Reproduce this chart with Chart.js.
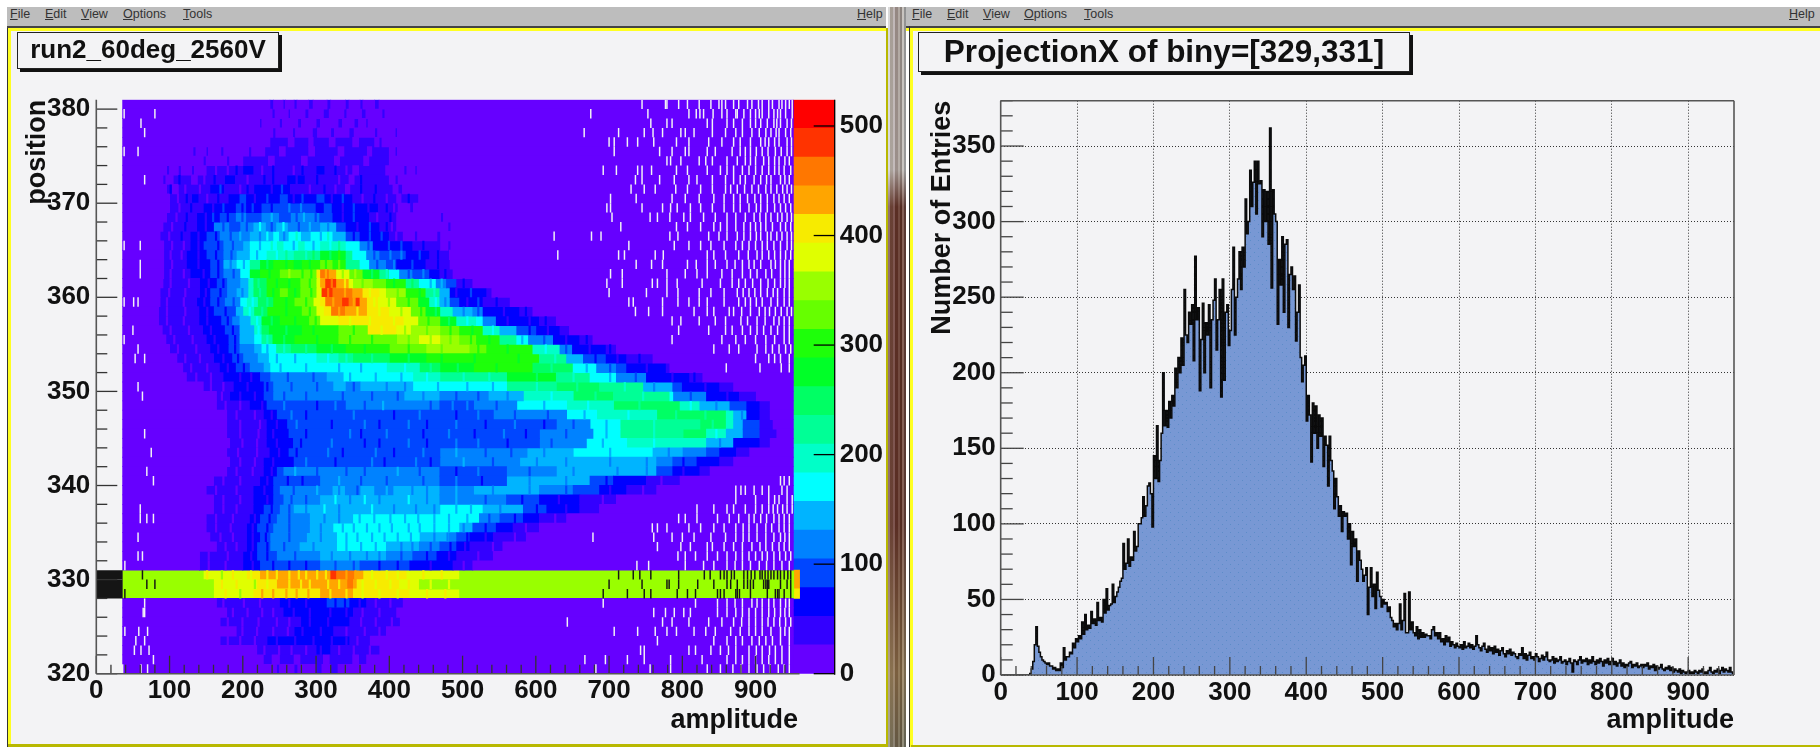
<!DOCTYPE html>
<html><head><meta charset="utf-8">
<script src="https://cdn.jsdelivr.net/npm/chart.js@4/dist/chart.umd.min.js"></script>
<style>
html,body{margin:0;padding:0;background:#fff;width:1820px;height:747px;overflow:hidden;font-family:"Liberation Sans",Arial,sans-serif}
.a{position:absolute}
.menu{position:absolute;top:7px;height:19px;background:#bdbdbd;border-bottom:2px solid #444;box-sizing:content-box}
.mi{position:absolute;top:7px;height:19px;line-height:15px;font-size:12.5px;color:#333}
.panel{position:absolute;background:#f3f3f5}
.titlebox{position:absolute;background:#f3f3f5;border:1px solid #222;box-shadow:3px 3px 0 #111;box-sizing:border-box;font-weight:bold;color:#111;text-align:center;filter:blur(.4px);white-space:nowrap}
canvas{position:absolute;filter:blur(.45px)}
</style></head><body>
<div class="menu" style="left:7px;width:879px"></div>
<div class="menu" style="left:906px;width:914px"></div>
<span class="mi" style="left:10px"><u>F</u>ile</span><span class="mi" style="left:45px"><u>E</u>dit</span><span class="mi" style="left:81px"><u>V</u>iew</span><span class="mi" style="left:123px"><u>O</u>ptions</span><span class="mi" style="left:183px"><u>T</u>ools</span><span class="mi" style="left:857px"><u>H</u>elp</span>
<span class="mi" style="left:912px"><u>F</u>ile</span><span class="mi" style="left:947px"><u>E</u>dit</span><span class="mi" style="left:983px"><u>V</u>iew</span><span class="mi" style="left:1024px"><u>O</u>ptions</span><span class="mi" style="left:1084px"><u>T</u>ools</span><span class="mi" style="left:1789px"><u>H</u>elp</span>
<div class="a" style="left:7px;top:28px;width:879px;height:3px;background:#ffff22"></div>
<div class="a" style="left:7px;top:28px;width:1px;height:719px;background:#333"></div>
<div class="a" style="left:8px;top:28px;width:3px;height:719px;background:#ffff22"></div>
<div class="panel" style="left:11px;top:31px;width:875px;height:713px"></div>
<div class="a" style="left:8px;top:744px;width:880px;height:3px;background:#b8b800"></div>
<div class="a" style="left:886px;top:28px;width:2px;height:719px;background:#b8b800"></div>
<div class="a" style="left:888px;top:7px;width:18px;height:740px;background:linear-gradient(90deg,#d8d8d8 0 12%,#7a6a5c 12% 30%,#a99 30% 38%,#5a4238 38% 55%,#8f7f74 55% 65%,#4a3a30 65% 78%,#b8b0a8 78% 90%,#555 90% 100%)"></div>
<div class="a" style="left:888px;top:7px;width:18px;height:740px;background:linear-gradient(180deg,rgba(220,220,220,.45) 0,rgba(220,220,220,.5) 22%,rgba(90,30,20,.55) 27%,rgba(90,30,20,.55) 70%,rgba(150,120,70,.55) 90%,rgba(110,110,80,.5) 100%)"></div>
<div class="a" style="left:906px;top:28px;width:914px;height:3px;background:#ffff22"></div>
<div class="a" style="left:909px;top:26px;width:1px;height:721px;background:#333"></div>
<div class="a" style="left:910px;top:28px;width:3px;height:719px;background:#ffff22"></div>
<div class="panel" style="left:913px;top:31px;width:907px;height:714px"></div>
<div class="a" style="left:911px;top:745px;width:909px;height:2px;background:#b8b800"></div>
<div class="titlebox" style="left:17px;top:32px;width:262px;height:37px;font-size:26px;line-height:33px">run2_60deg_2560V</div>
<div class="titlebox" style="left:918px;top:32px;width:492px;height:40px;font-size:31.5px;line-height:36px">ProjectionX of biny=[329,331]</div>
<canvas id="left" width="875" height="713" style="left:11px;top:31px;width:875px;height:713px"></canvas>
<canvas id="right" width="907" height="714" style="left:913px;top:31px;width:907px;height:714px"></canvas>
<script>
// ---------- DATA ----------
const paletteColors=["rgb(102,0,255)","rgb(51,0,255)","rgb(0,0,255)","rgb(0,70,255)","rgb(0,130,255)","rgb(0,180,255)","rgb(0,255,255)","rgb(0,255,200)","rgb(0,255,150)","rgb(0,255,100)","rgb(0,255,40)","rgb(30,255,10)","rgb(102,255,0)","rgb(153,255,0)","rgb(224,255,0)","rgb(247,235,0)","rgb(255,165,0)","rgb(255,119,0)","rgb(255,51,0)","rgb(255,0,0)"];
const paletteMax=524;
const paletteRange=[951.5,1008];
const firstRow=380;
const amplitudeTicks=[0,100,200,300,400,500,600,700,800,900];
const positionTicks=[320,330,340,350,360,370,380];
const paletteTicks=[0,100,200,300,400,500];
const entriesTicks=[0,50,100,150,200,250,300,350];
// each row, top to bottom: amplitude where a palette level starts, level, ...
const heatRuns=[
[36,0,237,1,242,0,255,1,258,0,270,1,274,0,290,1,296,0,315,1,320,0,340,1,345,0,360,1,364,0,380,1,386,0],
[36,0,240,1,244,0,262,1,265,0,285,1,290,0,310,1,318,0,338,1,342,0,362,1,368,0,390,1,394,0],
[36,0,223,1,226,0,250,1,254,0,275,1,280,0,300,1,306,0,330,1,336,0,352,1,358,0,368,1,371,0],
[36,0,241,1,245,0,268,1,272,0,295,1,302,0,320,1,325,0,345,1,352,0,380,1,384,0,408,1,411,0],
[36,0,237,1,262,0,270,1,290,0,296,1,318,0,326,1,350,0,358,1,380,0,386,1,390,0],
[36,0,132,1,136,0,150,1,153,0,170,1,174,0,208,1,212,0,230,1,250,0,258,1,290,0,298,1,330,0,338,1,370,0,376,1,400,0,408,1,411,0],
[36,0,146,1,150,0,178,1,182,0,200,1,235,0,243,1,280,0,288,1,325,0,332,1,365,0,372,1,400,0],
[36,0,96,1,100,0,112,1,116,0,130,1,134,0,150,1,200,2,215,1,300,2,312,1,350,0,358,1,395,0,420,1,424,0,435,1,438,0],
[36,0,91,1,95,0,105,1,130,0,138,1,175,2,190,1,260,2,285,1,345,0,352,1,400,0,408,1,412,0],
[36,0,96,1,104,0,112,1,155,2,175,1,215,2,265,1,340,0,346,1,405,0,412,1,418,0],
[36,0,100,1,130,2,140,1,180,2,195,3,205,2,250,3,262,2,300,3,312,2,350,1,410,0,416,1,440,0],
[36,0,100,1,146,2,190,3,205,2,225,3,300,2,310,3,322,2,385,1,412,0,428,1,433,0],
[36,0,96,1,137,2,168,3,190,4,205,3,225,4,250,3,265,4,305,3,323,2,373,1,410,0,470,1,474,0],
[36,0,91,1,137,2,160,4,182,3,196,4,214,5,232,4,245,5,262,4,305,5,328,3,341,2,387,1,410,0,480,1,484,0],
[36,0,87,1,128,2,150,3,168,4,209,5,241,6,250,5,262,6,280,5,292,6,323,5,341,3,360,2,400,1,419,0,465,1,470,0],
[36,0,92,1,128,2,146,3,173,4,200,5,209,6,246,7,256,6,275,7,285,6,305,7,341,6,360,4,378,2,432,1,470,0,480,1,484,0],
[36,0,92,1,123,2,150,3,173,4,191,5,209,6,232,7,269,8,305,10,341,8,350,6,369,4,387,3,423,2,455,1,482,0],
[36,0,92,1,123,2,155,3,173,5,191,6,209,8,223,10,241,11,270,10,280,11,305,12,323,11,341,8,360,6,373,4,396,3,410,2,450,1,483,0],
[36,0,92,1,128,2,155,3,173,4,196,6,209,10,223,11,250,12,300,15,305,17,318,16,328,14,346,12,364,10,387,8,400,6,414,4,432,3,455,2,469,1,487,0],
[36,0,91,1,141,2,164,3,178,4,196,5,207,7,214,9,232,11,278,12,300,14,305,16,312,18,328,16,345,14,351,13,378,12,396,11,423,8,441,6,464,4,478,3,492,1,514,0],
[36,0,87,1,141,2,155,3,178,4,191,5,207,7,214,9,232,11,250,12,262,11,278,12,300,14,307,18,323,17,350,16,364,15,387,14,396,13,423,11,450,8,469,5,483,2,533,1,540,0],
[36,0,87,1,137,2,155,3,175,4,196,6,205,7,220,9,241,11,270,12,296,14,305,15,312,17,335,18,345,17,354,18,360,16,370,15,385,14,410,12,440,10,455,7,469,5,483,3,496,2,528,1,565,0],
[36,0,85,1,140,2,160,3,190,5,200,7,215,9,233,11,280,12,300,14,310,15,320,17,340,16,370,15,400,14,430,12,450,10,470,7,487,5,514,4,528,2,578,1,596,0],
[36,0,85,1,140,2,170,3,185,4,195,5,210,7,225,10,250,11,290,12,305,14,330,15,420,14,440,12,470,10,492,7,519,6,528,4,546,2,605,1,628,0],
[36,0,90,1,145,2,175,3,195,5,215,7,225,9,235,10,280,11,330,12,370,15,410,14,430,13,470,12,496,11,528,7,551,5,574,3,601,2,633,1,646,0],
[36,0,95,1,150,2,180,3,195,5,215,6,225,8,240,10,270,11,330,12,410,13,440,14,470,13,496,12,519,11,551,8,574,6,590,4,624,2,660,1,678,0],
[36,0,100,1,155,2,180,3,195,4,215,5,225,6,245,8,265,9,300,10,340,11,400,12,450,13,510,12,533,11,596,7,633,4,650,2,696,1,710,0],
[36,0,110,1,160,2,185,3,200,4,220,5,235,6,300,7,330,8,350,9,400,10,450,11,605,8,642,5,665,3,696,2,724,1,760,0],
[36,0,118,1,168,2,190,3,209,4,228,5,237,6,396,7,441,9,469,10,515,11,596,9,651,6,683,4,710,3,724,2,778,1,783,0],
[36,0,123,1,173,2,223,3,237,4,314,5,337,6,432,7,469,8,560,10,628,8,674,6,710,4,751,2,810,1,828,0],
[36,0,146,1,187,2,228,3,241,4,323,5,341,4,360,5,432,6,560,8,628,9,687,8,747,5,787,3,800,2,851,1,870,0],
[36,0,164,1,182,2,228,3,241,4,420,5,469,4,535,5,583,7,651,9,706,8,783,6,788,4,833,2,878,1,901,0],
[36,0,164,1,209,2,232,3,340,4,469,3,515,4,574,6,642,7,706,9,797,7,824,5,865,3,888,2,906,1,920,0],
[36,0,178,1,228,2,246,3,542,4,642,6,683,7,765,9,860,7,870,5,888,2,906,1,920,0],
[36,0,178,1,232,2,260,3,628,4,674,6,715,8,824,9,860,7,870,5,883,3,906,1,924,0],
[36,0,178,1,232,2,262,3,605,4,678,6,715,8,801,9,833,7,860,5,883,3,906,1,929,0],
[36,0,182,1,232,2,268,3,605,4,669,6,724,7,833,5,870,2,906,1,920,0],
[36,0,178,1,236,2,262,3,469,4,588,5,651,6,760,5,801,4,833,3,851,2,874,1,892,0],
[36,0,182,1,228,2,269,3,469,4,578,5,765,4,787,3,820,2,851,1,870,0],
[36,0,178,1,228,2,246,3,255,4,469,3,560,4,628,5,765,3,787,2,824,1,838,0],
[36,0,160,1,223,2,241,3,305,4,469,3,560,5,674,3,706,2,751,1,797,0],
[36,0,150,1,214,2,241,3,250,4,322,5,340,4,360,5,380,4,405,5,469,4,515,5,605,4,651,3,687,2,724,1,765,0],
[36,0,160,1,214,2,241,3,255,4,305,5,469,4,560,3,605,2,660,1,710,0],
[36,0,160,1,214,2,228,3,250,4,269,5,469,6,528,5,583,3,615,2,660,1,687,0],
[36,0,150,1,209,2,223,3,246,4,291,5,350,6,523,4,551,3,583,2,605,1,642,0],
[36,0,150,1,205,2,219,3,241,4,291,5,323,6,496,5,514,3,546,2,569,1,605,0],
[36,0,155,1,205,2,223,3,237,4,287,5,328,6,442,5,482,4,492,3,510,2,542,1,587,0],
[36,0,164,1,205,2,219,3,237,4,277,5,328,6,396,5,441,4,469,3,492,2,510,1,555,0],
[36,0,141,1,200,2,219,3,246,4,305,5,396,4,432,3,465,2,492,1,542,0],
[36,0,141,1,200,2,223,3,305,4,360,3,428,2,487,1,514,0],
[36,13,146,14,205,15,223,16,319,18,328,17,355,16,365,15,424,14,496,13,952,16],
[36,13,160,14,219,15,246,16,342,17,351,16,356,15,414,14,441,13,952,16],
[36,13,160,14,214,15,305,16,351,15,428,14,496,13,952,15],
[36,0,164,1,250,2,314,3,346,2,369,1,419,0],
[36,0,178,1,255,2,351,1,410,0],
[36,0,169,1,279,2,346,1,415,0],
[36,0,191,1,270,2,324,1,396,0],
[36,0,169,1,233,2,346,1,374,0],
[36,0,219,1,300,2,320,1,387,0],
[36,0,228,1,240,0,250,1,270,0,278,1,310,0,318,1,350,0,358,1,369,0],
[36,0,246,1,250,0,270,1,275,0,300,1,308,0,320,1,330,0]
];
// fine stripes per row: +amplitude = one palette level above its run, -amplitude = one below
const cellStripes=[
[],[],[],[],[],[],[],
[-162,-178,190,-225,240,-268,280,325,-340],
[112,-146,160,-205,228,240,-272,300,-330,360],
[100,-120,-140,168,-195,205,-238,252,-290,310,-325,360,380],
[-110,122,-150,165,-215,232,-268,280,-320,335,-362,378,-395,425],
[-112,128,-158,172,-198,212,-238,262,278,-335,350,-370,395,-405],
[-108,122,-148,158,-178,-198,238,-272,282,-298,-335,350,-382,400],
[-102,120,-148,-172,-204,222,-238,254,-275,290,-315,-355,372,395,-402],
[-98,115,-138,-162,-182,195,-222,232,-255,272,-305,315,-350,372,388,-408,435],
[-102,-118,-138,-165,-185,-222,238,-268,-295,-318,330,-370,398,415,445],
[-100,-115,-138,-162,-183,-218,-245,258,-285,295,-318,330,-378,400,415,440,465],
[-102,-138,-165,-182,-200,-232,-258,-290,-312,330,-382,405,430,465],
[-100,-118,-145,-165,-186,-235,262,-280,-292,-312,-335,352,-375,-395,-425,445,475],
[-100,-125,-152,-172,-220,-245,-262,-290,-320,-338,-362,-405,430,-455,470,500],
[-98,-120,-148,-168,-198,-222,-240,-270,-292,-315,-338,-372,-410,-440,-460,-490,510],
[-95,-118,-146,-165,-186,-212,-232,-258,-285,-322,-350,-378,-398,-425,-462,-475,-505,520,545],
[-95,-120,-150,-175,-208,-225,-258,-290,-330,-355,-385,-415,-442,-462,-500,-520,-555,585],
[-95,-118,-150,-178,-218,-238,-270,-298,-345,-372,-405,-452,-480,-505,-560,-590,612],
[-100,-125,-155,-185,-220,-258,-295,-350,-388,-420,-450,-482,-512,-540,-590,-615],
[-105,-130,-160,-188,-232,-255,-300,-345,-375,-425,-455,-482,-510,-535,-580,-610,-640,668],
[-110,-135,-165,-188,-232,-255,-285,-320,-365,-425,-470,-520,-560,-612,-640,-672,700],
[-120,-140,-172,-192,-245,-270,-315,-340,-375,-425,-470,-515,-575,-625,-680,-710,740],
[-128,-150,-178,-200,-250,-285,-330,-360,-420,-455,-492,-545,-620,-668,-700,-750],
[-135,-155,-195,-210,-260,-295,-345,-380,-415,-450,-500,-535,-600,-650,-700,-735,-785,815],
[-155,-172,-205,-232,-265,-300,-350,-395,-420,-465,-505,-540,-600,-655,-720,-760,-830],
[-170,-195,-215,-255,-285,-335,-375,-410,-445,-490,-520,-560,-620,-680,-745,-810,-860],
[-175,-195,-225,255,-300,325,-365,390,-455,485,505,-545,-610,-670,-740,-810,-845],
[-190,-215,-238,265,-285,350,-405,440,-490,520,-570,-615,-665,-725,-790,-830,-880],
[-195,-222,-245,272,-320,365,-385,425,-450,490,-530,570,-610,-650,-695,-760,-840],
[-195,-220,-240,-285,345,-360,395,-445,480,-515,555,-585,-640,-695,-760,-845],
[-198,-218,-245,-278,320,-365,-385,425,-450,490,520,-560,-620,-690,-760,-850],
[-192,-218,-248,-272,315,-335,380,-405,445,490,-530,-565,-610,-700,-780],
[-195,-215,-240,285,-325,375,-392,435,-455,500,-540,-600,-640,-700,-750,-800],
[-190,-212,-238,270,-300,-340,-365,410,-440,-490,520,-590,-650,-710,-750,-800],
[-172,-195,-232,-260,-280,330,-360,-395,-445,490,-525,-590,-640,-695,-770],
[-162,-190,-228,-268,300,-330,-355,395,-430,-450,490,-540,-590,-640,-700,-745],
[-172,-195,-232,-265,-285,325,-345,365,-385,425,-450,490,-530,-580,-630,-690],
[-172,-190,-238,-262,-285,310,-330,375,-405,-435,-460,-490,-510,-550,-600,-640],
[-162,-185,-215,-235,-262,-310,-330,-358,-378,-400,-420,-438,-460,-480,-505,-535,-570,-625],
[-162,-182,-212,-232,-262,-305,-335,-350,-368,-385,-402,-425,-440,-460,-480,-500,-530,-585],
[-168,-185,-212,-230,-262,-305,-340,-355,-375,-392,-410,-428,-460,-478,-505,-530,-570],
[-175,-190,-212,-232,-255,-295,-340,-360,-380,-415,-430,-455,-482,-502,-540],
[-152,-178,-210,-232,-270,-320,-345,-368,-385,-415,-450,-480,-520],
[-152,-175,-212,-240,-262,-285,-325,-350,-385,-410,-455,-500],
[150,-170,185,-210,-232,-245,-262,-275,-285,-300,-312,-340,-352,-375,-395,-410,445,470],
[170,190,-215,-232,-262,-278,-290,-315,-330,-362,-380,-400,425,455,480],
[175,-195,225,240,258,272,288,-318,-340,-362,-385,-410,450,475],
[-172,-200,-222,-262,-285,-325,-338,-358,-380,-400],
[-185,-205,-225,-240,-268,-290,-318,-340,-362,-385],
[-178,-198,-220,-245,-262,-290,-315,-360,-380,-402],
[-198,-218,-240,-260,-280,-305,-340,-365,-385],
[-178,-195,-215,-245,-270,-295,-320,-340,-355],
[-228,-248,-265,-285,-305,-330,-350,-372],
[],[]
];
// amplitudes of empty bins in each row, top to bottom
const emptyBins=[
[744,776,778,794,806,822,838,849,853,858,869,876,888,894,903,908,917,922,931,935,940,945,949],
[37,79,674,752,808,818,823,828,841,853,860,872,874,883,892,899,904,908,917,924,929,933,940,949],
[60,756,778,785,833,840,860,869,881,892,899,906,915,924,928,933,942,948],
[65,665,712,747,759,772,797,803,815,840,858,872,881,894,904,913,920,927,931,940,947],
[699,706,724,738,760,791,808,835,853,869,878,892,906,912,917,925,931,942,948],
[37,56,706,768,785,803,808,833,844,867,878,885,892,900,908,916,926,934,942,948],
[778,783,797,822,831,840,860,874,885,892,899,910,917,925,931,939,945],
[691,709,738,744,757,791,806,833,851,860,869,881,890,899,908,917,925,931,938,947],
[65,735,744,768,788,808,819,840,858,869,878,885,897,906,914,920,933,939,945],
[729,747,762,790,806,824,840,858,865,874,884,894,903,913,920,928,936,942,948],
[701,736,785,803,822,842,856,869,878,888,898,906,915,924,931,938,945],
[696,701,744,772,783,792,810,824,840,856,869,878,890,900,906,915,925,933,940,947],
[703,755,765,782,801,810,828,844,860,872,885,897,905,913,920,929,935,942,948],
[715,791,806,824,842,851,860,872,883,892,899,906,913,922,933,940,947],
[624,675,688,782,793,835,849,860,874,883,892,900,906,915,920,928,935,942,948],
[37,59,726,788,808,824,838,856,872,881,890,899,908,915,924,933,942,948],
[629,712,720,762,773,833,842,858,876,889,901,908,917,925,933,940,947],
[59,736,757,772,806,818,833,844,860,871,881,890,897,906,920,926,933,939,945],
[59,701,717,778,803,819,833,853,867,881,892,901,913,921,933,939,945],
[696,717,758,765,778,792,826,851,867,876,885,895,906,916,925,933,939,945],
[699,750,778,793,822,838,856,874,882,890,898,906,915,923,929,938,945],
[37,50,56,726,732,772,793,808,822,833,856,876,885,892,900,908,920,929,938,945],
[735,753,772,815,833,842,863,869,880,892,904,912,918,926,934,942,948],
[785,797,822,844,858,879,888,901,912,924,931,938,945],
[49,794,835,858,867,881,892,901,910,920,929,938,945],
[37,785,853,872,885,899,913,925,938,945],
[56,842,863,876,901,913,922,931,940,947],
[52,65,899,917,925,933,945],
[859,905,934,945],
[],
[56],
[62],
[],[],[],
[65],
[],
[74],
[],
[68],
[77,933,938,945],
[872,879,885,897,908,917,935,942],
[872,899,917,925,931,942,949],
[59,819,842,860,869,885,899,908,917,923,929,936,942,949],
[59,68,77,794,803,819,847,863,876,890,897,906,914,924,931,938,945],
[758,765,778,808,824,842,856,872,882,890,901,913,921,931,938,945],
[56,677,760,785,799,815,838,858,872,882,890,901,913,924,933,939,945],
[765,797,810,833,840,856,869,881,894,905,913,922,931,938,945],
[56,62,793,803,817,833,847,860,872,881,890,899,908,915,924,932,940,947],
[38,737,753,803,828,842,860,871,881,892,904,914,924,935,945],
[],[],[],
[65,691,817,847,860,871,881,894,901,908,917,924,933,940,945],
[63,65,760,776,788,801,810,847,860,872,881,890,899,908,917,925,933,939,945],
[642,772,785,808,835,853,869,880,890,899,908,916,924,932,940,947],
[38,57,69,706,738,762,778,791,815,831,844,865,878,890,899,908,920,933,939,945],
[53,65,765,842,860,872,881,894,904,913,922,933,945],
[51,60,71,742,747,808,817,838,851,862,872,890,900,908,918,926,935,945],
[77,666,694,724,747,783,826,860,872,881,890,899,908,917,926,935,945],
[35,60,69,681,755,783,833,851,868,879,890,901,910,919,930,938,945]
];
// dark bins inside the highlighted slice, rows 330, 329, 328
const sliceRows=[330,329,328];
const sliceStart=36;
const sliceDark=[
[62,712,732,741,756,794,829,837,851,856,860,866,870,883,888,893,898,905,908,912,916,920,924,929,933,938,943,947],
[68,79,699,744,778,781,794,820,842,860,865,874,883,888,892,896,910,913,915,917,933,942,947],
[38,691,724,747,756,792,806,817,847,851,856,872,874,877,892,915,926,929,931,938,947]
];
// projection histogram: counts in 2-unit amplitude bins from 0 to 960
const histWidth=2;
const histCounts=[
0,0,0,0,0,0,0,0,0,0,0,0,0,0,0,0,0,0,0,1,
4,9,20,32,19,15,12,10,9,8,7,8,6,6,4,5,3,4,3,8,
5,18,10,12,12,15,14,21,18,24,22,26,24,35,27,40,30,33,31,42,
34,37,33,48,36,38,35,50,41,57,43,46,47,60,48,52,55,58,62,64,
87,70,74,90,72,78,76,95,82,85,100,100,104,118,105,112,125,127,120,98,
145,130,165,128,142,160,200,165,175,164,181,170,185,178,203,190,210,200,223,205,
255,225,220,240,232,245,208,277,235,243,188,222,246,200,233,225,245,190,235,248,
262,215,235,255,184,262,195,240,245,218,228,255,283,225,250,262,280,255,283,270,
315,292,300,334,310,326,340,305,340,325,327,290,321,300,320,285,362,256,321,305,
300,232,275,258,290,240,285,288,230,265,270,255,264,221,240,258,210,194,205,211,
168,185,172,141,180,160,178,150,172,158,170,138,158,152,125,158,142,135,110,130,
118,105,112,95,108,105,107,90,100,73,95,85,90,62,82,76,70,62,66,71,
40,58,71,52,60,44,68,56,52,45,50,47,48,42,45,38,36,32,34,30,
34,47,30,36,54,28,28,55,30,35,28,26,32,24,30,25,28,25,27,26,
26,24,30,32,26,28,24,28,22,24,20,26,22,25,19,22,20,18,21,19,
18,20,17,22,18,19,21,18,20,17,19,26,20,18,16,19,21,17,15,19,
16,18,14,19,15,17,13,16,18,14,12,16,14,17,13,15,14,12,11,14,
13,18,11,14,10,13,15,11,12,10,14,12,9,11,13,10,12,15,10,9,
10,12,8,11,9,10,12,8,9,10,7,9,11,8,2,10,9,7,10,12,
8,10,9,11,7,10,8,12,9,7,10,8,11,9,6,10,8,11,7,9,
11,7,9,6,8,10,6,8,5,7,6,8,9,5,7,6,8,5,6,7,
5,7,6,8,4,6,5,7,3,6,4,5,7,4,3,5,4,6,3,5,
2,4,3,2,4,1,3,2,1,2,3,1,2,1,3,2,1,3,2,4,
1,2,1,3,5,2,1,3,2,4,1,3,5,2,4,3,2,5,2,1
];
// ---------- STYLE ----------
const FONT='"Liberation Sans", Arial, sans-serif';
const tickFont={family:FONT,size:26,weight:'bold'};
const titleFont={family:FONT,size:27,weight:'bold',lineHeight:1.2};
const INK='#111';
const panelBg='#f3f3f5';
const tickList=a=>s=>{s.ticks=a.map(value=>({value}))};
const tickText=v=>String(v);
// ---------- BUILD HEATMAP SERIES ----------
const levelData=paletteColors.map(()=>[]);
const stripeData=paletteColors.map(()=>[]);
const emptyData=[],darkData=[];
function levelAt(run,a){let l=-1;for(let k=0;k<run.length;k+=2){if(run[k]<=a)l=run[k+1];}return l;}
heatRuns.forEach((run,i)=>{
  const y=firstRow-i+0.5;
  for(let k=0;k<run.length;k+=2){
    const start=run[k], lvl=run[k+1];
    const end=k+2<run.length?run[k+2]:(start>=952?960:951.5);
    levelData[lvl].push({x:[start,end],y});
  }
  (cellStripes[i]||[]).forEach(s=>{
    const a=Math.abs(s),lvl=levelAt(run,a)+(s>0?1:-1);
    if(lvl>=0&&lvl<paletteColors.length)stripeData[lvl].push({x:[a,a+3],y});
  });
  (emptyBins[i]||[]).forEach(a=>emptyData.push({x:[a,a+2],y}));
});
sliceRows.forEach((r,i)=>{
  darkData.push({x:[0,sliceStart],y:r+0.5});
  sliceDark[i].forEach(a=>darkData.push({x:[a,a+2],y:r+0.5}));
});
const step=paletteMax/paletteColors.length;
const barCommon={grouped:false,barPercentage:1,categoryPercentage:1,borderWidth:0,inflateAmount:0.4};
const heatDatasets=[
  ...paletteColors.map((c,i)=>({...barCommon,type:'bar',label:'level '+i,data:[{x:paletteRange,y:(i+.5)*step}],yAxisID:'z',backgroundColor:c,order:40})),
  ...levelData.map((d,i)=>({...barCommon,type:'bar',label:'cells '+i,data:d,yAxisID:'y',backgroundColor:paletteColors[i],order:20})),
  ...stripeData.map((d,i)=>({...barCommon,type:'bar',label:'stripes '+i,data:d,yAxisID:'y',backgroundColor:paletteColors[i],order:15,inflateAmount:0})),
  {...barCommon,type:'bar',label:'empty',data:emptyData,yAxisID:'y',backgroundColor:panelBg,order:10,inflateAmount:0},
  {...barCommon,type:'bar',label:'dark',data:darkData,yAxisID:'y',backgroundColor:'#151515',order:5,inflateAmount:0}
];
// ---------- PLUGINS ----------
function line(ctx,x0,y0,x1,y1){ctx.beginPath();ctx.moveTo(x0,y0);ctx.lineTo(x1,y1);ctx.stroke();}
const rootTicks={id:'rootTicks',
  afterDatasetsDraw(chart,_a,o){
    const ctx=chart.ctx,x=chart.scales.x,y=chart.scales.y,A=chart.chartArea;
    ctx.save();
    ctx.strokeStyle=o.color;ctx.lineWidth=1.3;
    for(let v=0;v<=o.xLast;v+=o.xMinor){const p=x.getPixelForValue(v);const big=v%o.xMajor===0;line(ctx,p,A.bottom,p,A.bottom-(big?o.xMajorLen:o.xMinorLen));}
    for(let v=y.min;v<=y.max;v+=o.yMinor){const p=y.getPixelForValue(v);const big=v%o.yMajor===0;line(ctx,A.left,p,A.left+(big?o.yMajorLen:o.yMinorLen),p);}
    ctx.lineWidth=1.6;ctx.strokeStyle='#555';
    line(ctx,A.left,A.top,A.left,A.bottom);
    line(ctx,A.left,A.bottom,x.getPixelForValue(o.xEnd),A.bottom);
    if(o.frame){line(ctx,A.left,A.top,A.right,A.top);line(ctx,A.right,A.top,A.right,A.bottom);}
    if(chart.scales.z){
      const z=chart.scales.z;ctx.strokeStyle='#000';ctx.lineWidth=1.3;
      paletteTicks.forEach(v=>{const p=z.getPixelForValue(v);line(ctx,A.right,p,A.right-21,p);});
      line(ctx,A.right,A.top,A.right,A.bottom+1);
      ctx.fillStyle=INK;ctx.font='bold 27px '+FONT;ctx.textAlign='right';ctx.textBaseline='alphabetic';
      ctx.fillText('amplitude',x.getPixelForValue(958),697);
    }
    ctx.restore();
  }};
// ---------- LEFT CHART ----------
new Chart(document.getElementById('left'),{
  type:'bar',
  data:{datasets:heatDatasets},
  plugins:[rootTicks],
  options:{
    indexAxis:'y',responsive:false,animation:false,events:[],
    layout:{padding:{top:68.7,left:0,right:0,bottom:0}},
    plugins:{legend:{display:false},tooltip:{enabled:false},
      rootTicks:{color:'#333',xMajor:100,xMinor:20,xLast:950,xEnd:960,xMajorLen:18,xMinorLen:9,yMajor:10,yMinor:2,yMajorLen:21,yMinorLen:11,frame:false}},
    scales:{
      x:{type:'linear',min:0,max:1008,offset:false,grid:{display:false,drawTicks:false},border:{display:false},
        afterFit:s=>{s.height=70.3},
        afterBuildTicks:tickList(amplitudeTicks),
        ticks:{autoSkip:false,maxRotation:0,color:INK,font:tickFont,padding:2,callback:tickText}},
      y:{type:'linear',min:320,max:381,offset:false,grid:{display:false,drawTicks:false},border:{display:false},
        afterFit:s=>{s.width=85.3},
        afterBuildTicks:tickList(positionTicks),
        title:{display:true,text:'position',align:'end',color:INK,font:titleFont,padding:{top:10,bottom:0}},
        ticks:{autoSkip:false,color:INK,font:tickFont,padding:6,callback:tickText}},
      z:{type:'linear',axis:'y',position:'right',min:0,max:paletteMax,offset:false,grid:{display:false,drawTicks:false},border:{display:false},
        afterFit:s=>{s.width=51.3},
        afterBuildTicks:tickList(paletteTicks),
        ticks:{autoSkip:false,color:INK,font:tickFont,padding:5,callback:tickText}}
    }
  }
});
// ---------- RIGHT CHART ----------
const tile=document.createElement('canvas');tile.width=8;tile.height=8;
{const t=tile.getContext('2d');t.fillStyle='#7898d4';t.fillRect(0,0,8,8);t.fillStyle='#5c8cc8';t.fillRect(1,1,1,1);t.fillRect(5,5,1,1);}
const fillPattern=tile.getContext('2d').createPattern(tile,'repeat');
const histPoints=histCounts.map((c,i)=>({x:i*histWidth+histWidth/2,y:c}));
new Chart(document.getElementById('right'),{
  type:'line',
  data:{datasets:[{label:'ProjectionX',data:histPoints,stepped:'middle',borderColor:'#0a0a0a',borderWidth:1.5,backgroundColor:fillPattern,fill:'origin',pointRadius:0,tension:0}]},
  plugins:[rootTicks],
  options:{
    responsive:false,animation:false,events:[],
    layout:{padding:{top:69.7,left:0,right:86,bottom:0}},
    plugins:{legend:{display:false},tooltip:{enabled:false},
      rootTicks:{color:'#444',xMajor:100,xMinor:20,xLast:950,xEnd:960,xMajorLen:18,xMinorLen:9,yMajor:50,yMinor:10,yMajorLen:23,yMinorLen:12,frame:true}},
    scales:{
      x:{type:'linear',min:0,max:960,offset:false,
        grid:{color:'#333',lineWidth:1,drawTicks:false},border:{display:false,dash:[1,2]},
        afterFit:s=>{s.height=70},
        afterBuildTicks:tickList(amplitudeTicks),
        title:{display:true,text:'amplitude',align:'end',color:INK,font:titleFont,padding:{top:0,bottom:8}},
        ticks:{autoSkip:false,maxRotation:0,color:INK,font:tickFont,padding:2,callback:tickText}},
      y:{type:'linear',min:0,max:380,offset:false,
        grid:{color:'#333',lineWidth:1,drawTicks:false},border:{display:false,dash:[1,2]},
        afterFit:s=>{s.width=87.7},
        afterBuildTicks:tickList(entriesTicks),
        title:{display:true,text:'Number of Entries',align:'end',color:INK,font:titleFont,padding:{top:13,bottom:0}},
        ticks:{autoSkip:false,color:INK,font:tickFont,padding:5,callback:tickText}}
    }
  }
});
</script>
</body></html>
